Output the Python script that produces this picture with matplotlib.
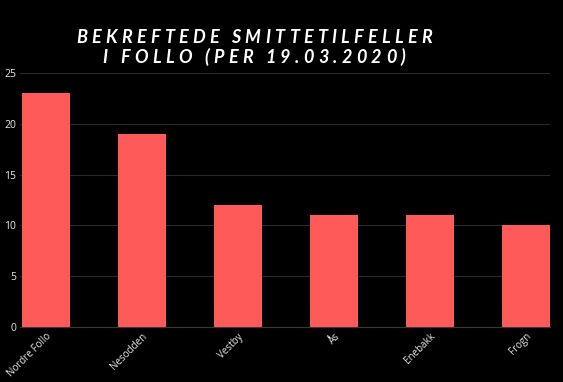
import matplotlib
matplotlib.use("Agg")
import matplotlib.pyplot as plt
from matplotlib.font_manager import FontProperties

# data
kommuner = ["Nordre Follo", "Nesodden", "Vestby", "Ås", "Enebakk", "Frogn"]
smittet = [23, 19, 12, 11, 11, 10]
yticks = [0, 5, 10, 15, 20, 25]
title_lines = ["BEKREFTEDE SMITTETILFELLER", "I FOLLO (PER 19.03.2020)"]

bg = "#000000"
bar_color = "#ff5a5a"

fig = plt.figure(figsize=(5.63, 3.82), dpi=100, facecolor=bg)
ax = fig.add_axes([0.036, 0.144, 0.941, 0.665], facecolor=bg)

x = list(range(len(kommuner)))
ax.bar(x, smittet, width=0.5, color=bar_color, zorder=3)

ax.set_xlim(-0.27, 5.25)
ax.set_ylim(0, 25)
ax.set_yticks(yticks)
ax.set_xticks(x)
ax.set_xticklabels(kommuner, rotation=45, ha="right", rotation_mode="anchor",
                   fontsize=7, color="#e8e8e8", family="Open Sans")
ax.tick_params(axis="y", labelsize=7.5, colors="#e8e8e8", length=0, pad=3)
ax.tick_params(axis="x", length=0, pad=3)
for lab in ax.get_yticklabels():
    lab.set_family("Open Sans")

ax.grid(axis="y", color="#2a2a2a", linewidth=0.8, zorder=0)
for s in ["top", "right", "left"]:
    ax.spines[s].set_visible(False)
ax.spines["bottom"].set_color("#3a3a3a")
ax.spines["bottom"].set_linewidth(0.8)

# title with wide letter spacing: place each character by hand
W, H = 563, 382
prop = FontProperties(family="Lato", weight="bold", style="italic", size=13)
renderer = fig.canvas.get_renderer()
tracking = 4.3  # px between letters
centre_x = 254
baselines = [43, 63]  # px from top
for line, base in zip(title_lines, baselines):
    widths = []
    for ch in line:
        w, h, d = renderer.get_text_width_height_descent(ch, prop, ismath=False)
        widths.append(w)
    total = sum(widths) + tracking * (len(line) - 1)
    xpos = centre_x - total / 2
    for ch, w in zip(line, widths):
        fig.text(xpos / W, 1 - base / H, ch, ha="left", va="baseline",
                 color="white", fontproperties=prop)
        xpos += w + tracking

fig.savefig("out.png", dpi=100, facecolor=bg)
